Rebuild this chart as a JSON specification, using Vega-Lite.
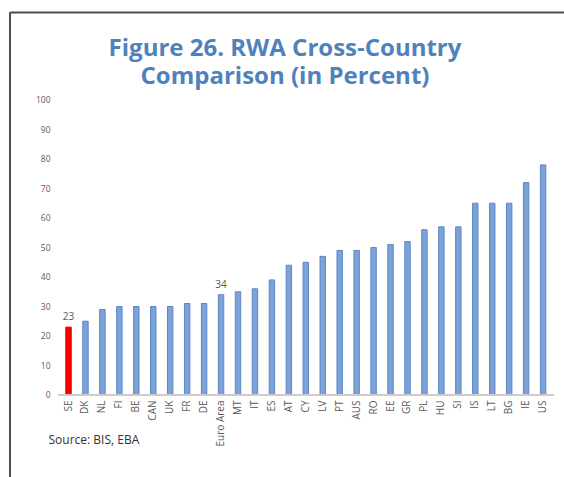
{
  "$schema": "https://vega.github.io/schema/vega-lite/v6.json",
  "width": 554,
  "height": 465,
  "autosize": {"type": "none"},
  "padding": {"left": 10, "top": 12, "right": 0, "bottom": 0},
  "background": "white",
  "config": {
    "view": {"stroke": null},
    "font": "Open Sans"
  },
  "title": {
    "text": ["Figure 26. RWA Cross-Country", "Comparison (in Percent)"],
    "anchor": "middle",
    "dx": -2,
    "offset": -78,
    "fontSize": 24,
    "fontWeight": "bold",
    "font": "Open Sans",
    "color": "#4F81BD",
    "lineHeight": 28
  },
  "data": {
    "values": [
      {"country": "SE", "rwa": 23},
      {"country": "DK", "rwa": 25},
      {"country": "NL", "rwa": 29},
      {"country": "FI", "rwa": 30},
      {"country": "BE", "rwa": 30},
      {"country": "CAN", "rwa": 30},
      {"country": "UK", "rwa": 30},
      {"country": "FR", "rwa": 31},
      {"country": "DE", "rwa": 31},
      {"country": "Euro Area", "rwa": 34},
      {"country": "MT", "rwa": 35},
      {"country": "IT", "rwa": 36},
      {"country": "ES", "rwa": 39},
      {"country": "AT", "rwa": 44},
      {"country": "CY", "rwa": 45},
      {"country": "LV", "rwa": 47},
      {"country": "PT", "rwa": 49},
      {"country": "AUS", "rwa": 49},
      {"country": "RO", "rwa": 50},
      {"country": "EE", "rwa": 51},
      {"country": "GR", "rwa": 52},
      {"country": "PL", "rwa": 56},
      {"country": "HU", "rwa": 57},
      {"country": "SI", "rwa": 57},
      {"country": "IS", "rwa": 65},
      {"country": "LT", "rwa": 65},
      {"country": "BG", "rwa": 65},
      {"country": "IE", "rwa": 72},
      {"country": "US", "rwa": 78}
    ]
  },
  "resolve": {"scale": {"x": "independent"}, "axis": {"x": "independent"}},
  "layer": [
    {
      "layer": [
        {
          "mark": {"type": "bar", "strokeWidth": 1},
          "encoding": {
            "x": {
              "field": "country",
              "type": "nominal",
              "sort": null,
              "scale": {"type": "band", "paddingInner": 0.68, "paddingOuter": 0, "range": [55.8, 535.8]},
              "axis": {
                "orient": "bottom",
                "offset": -82,
                "domain": false,
                "ticks": false,
                "tickSize": 0,
                "labelAngle": -90,
                "labelPadding": 5,
                "labelFontSize": 10,
                "labelColor": "#595959",
                "labelFont": "Open Sans",
                "title": "Source: BIS, EBA",
                "titleAnchor": "start",
                "titleAlign": "left",
                "titleX": 38,
                "titleY": 48,
                "titleBaseline": "alphabetic",
                "titleFontSize": 12,
                "titleFontWeight": "normal",
                "titleColor": "#333333",
                "titleFont": "Open Sans"
              }
            },
            "y": {
              "field": "rwa",
              "type": "quantitative",
              "scale": {"domain": [-27.8, 129.83], "nice": false, "zero": false},
              "axis": {
                "orient": "left",
                "values": [0, 10, 20, 30, 40, 50, 60, 70, 80, 90, 100],
                "grid": false,
                "ticks": false,
                "tickSize": 0,
                "domain": false,
                "labelAlign": "right",
                "labelPadding": -40,
                "labelFontSize": 8.5,
                "labelColor": "#595959",
                "labelFont": "Open Sans",
                "title": null
              }
            },
            "fill": {
              "condition": {"test": "datum.country === 'SE'", "value": "#FF0000"},
              "value": "#7CA2D8"
            },
            "stroke": {
              "condition": {"test": "datum.country === 'SE'", "value": "#E00000"},
              "value": "#5A87C6"
            }
          }
        },
        {
          "transform": [{"filter": {"field": "country", "oneOf": ["SE", "Euro Area"]}}],
          "mark": {"type": "text", "baseline": "alphabetic", "dy": -7, "fontSize": 10, "color": "#595959", "font": "Open Sans"},
          "encoding": {
            "x": {"field": "country", "type": "nominal", "sort": null},
            "y": {"field": "rwa", "type": "quantitative"},
            "text": {"field": "rwa", "type": "quantitative"}
          }
        },
        {
          "mark": {"type": "rule", "color": "#CCCCCC", "strokeWidth": 1, "xOffset": -10.5, "x2Offset": 10},
          "encoding": {
            "x": {"datum": "SE", "type": "nominal"},
            "x2": {"datum": "US"},
            "y": {"datum": 0, "type": "quantitative"}
          }
        }
      ]
    },
    {
      "mark": {"type": "rule", "color": "#4D4D4D", "strokeWidth": 2},
      "encoding": {
        "x": {
          "datum": 0,
          "type": "quantitative",
          "scale": {"domain": [0, 1], "nice": false},
          "axis": {
            "orient": "top",
            "domain": true,
            "domainColor": "#4D4D4D",
            "domainWidth": 2,
            "labels": false,
            "ticks": false,
            "tickSize": 0,
            "grid": false,
            "title": null
          }
        }
      }
    }
  ]
}
